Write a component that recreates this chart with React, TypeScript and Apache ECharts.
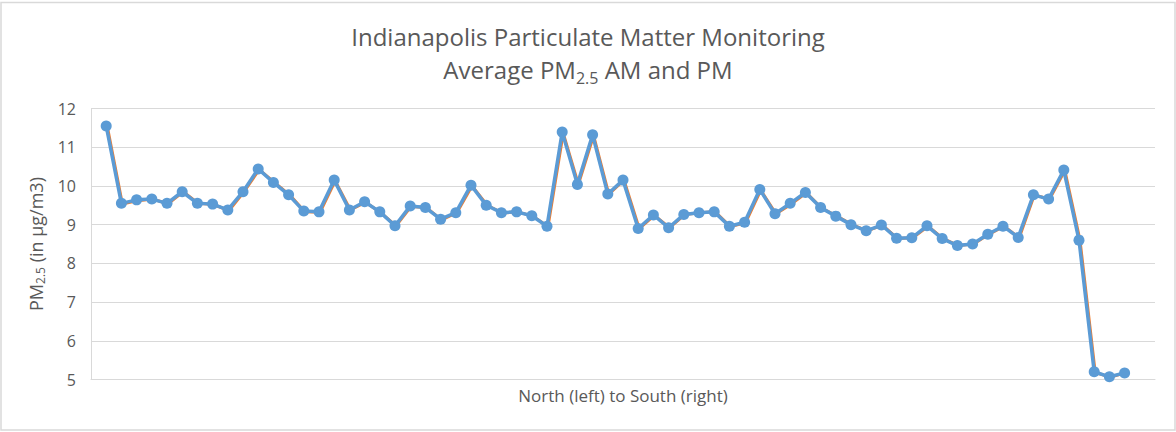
import React, { useEffect, useRef } from "react";
import * as echarts from "echarts";

// Average PM2.5 per monitoring site, ordered north (left) to south (right)
const pmAverage: number[] = [
  11.55, 9.55, 9.64, 9.66, 9.55, 9.85, 9.55, 9.53, 9.38, 9.85,
  10.44, 10.09, 9.77, 9.35, 9.33, 10.15, 9.38, 9.59, 9.33, 8.97,
  9.48, 9.44, 9.14, 9.31, 10.02, 9.5, 9.31, 9.33, 9.23, 8.96,
  11.39, 10.04, 11.32, 9.79, 10.15, 8.9, 9.25, 8.92, 9.26, 9.31,
  9.33, 8.96, 9.06, 9.91, 9.28, 9.55, 9.83, 9.44, 9.22, 9.0,
  8.84, 8.99, 8.65, 8.66, 8.97, 8.64, 8.46, 8.5, 8.75, 8.96,
  8.67, 9.77, 9.66, 10.41, 8.6, 5.2, 5.07, 5.17,
];
// Second series (almost entirely hidden behind the first)
const pmSecond: number[] = [
  11.55, 9.53, 9.62, 9.66, 9.54, 9.85, 9.55, 9.52, 9.36, 9.85,
  10.42, 10.09, 9.77, 9.33, 9.32, 10.13, 9.38, 9.58, 9.31, 8.97,
  9.47, 9.44, 9.12, 9.31, 10.0, 9.5, 9.3, 9.33, 9.22, 8.95,
  11.36, 10.04, 11.3, 9.79, 10.15, 8.9, 9.24, 8.92, 9.26, 9.31,
  9.33, 8.95, 9.05, 9.89, 9.28, 9.53, 9.82, 9.43, 9.22, 9.0,
  8.84, 8.99, 8.64, 8.66, 8.96, 8.64, 8.46, 8.5, 8.75, 8.96,
  8.66, 9.77, 9.66, 10.4, 8.6, 5.18, 5.06, 5.17,
];
const siteLabels: string[] = pmAverage.map((_, i) => `Site ${i + 1}`);
// Excel-style axis: one empty slot before, two after
const categories: string[] = ["", ...siteLabels, "", ""];
const yTicks = { min: 5, max: 12, interval: 1 };

const TEXT = "#595959";
const GRID = "#D9D9D9";
const FONT = "'Open Sans', 'Noto Sans', sans-serif";

export default function App() {
  const ref = useRef<HTMLDivElement>(null);
  useEffect(() => {
    if (!ref.current) return;
    const chart = echarts.init(ref.current, undefined, { renderer: "svg" });
    const pad = (arr: number[]) => [null, ...arr, null, null];
    const gridBase = { top: 108.5, bottom: 52.5 };
    chart.setOption({
      animation: false,
      backgroundColor: "#ffffff",
      title: {
        text: "Indianapolis Particulate Matter Monitoring\nAverage PM{sub|2.5} AM and PM",
        left: "center",
        top: 15,
        textStyle: {
          fontFamily: FONT,
          fontSize: 24,
          fontWeight: "normal",
          color: TEXT,
          lineHeight: 33,
          rich: {
            sub: {
              fontFamily: FONT,
              fontSize: 16,
              color: TEXT,
              lineHeight: 16,
              verticalAlign: "bottom",
            },
          },
        },
      },
      graphic: [
        {
          type: "rect",
          shape: { x: 1, y: 2.5, width: 1174, height: 427.5 },
          style: { fill: "transparent", stroke: GRID, lineWidth: 1.5 },
          silent: true,
        },
      ],
      grid: [
        { ...gridBase, left: 91, right: 21 },
        { ...gridBase, left: 92, right: 20 },
      ],
      xAxis: [
        {
          type: "category",
          gridIndex: 0,
          data: categories,
          boundaryGap: false,
          axisLine: { show: true, lineStyle: { color: GRID } },
          axisTick: { show: false },
          axisLabel: { show: false },
          splitLine: { show: false },
          name: "North (left) to South (right)",
          nameLocation: "middle",
          nameGap: 7,
          nameTextStyle: { fontFamily: FONT, fontSize: 17, color: TEXT },
        },
        {
          type: "category",
          gridIndex: 1,
          data: categories,
          boundaryGap: false,
          show: false,
        },
      ],
      yAxis: [
        {
          type: "value",
          gridIndex: 0,
          ...yTicks,
          axisLine: { show: true, lineStyle: { color: GRID } },
          axisTick: { show: false },
          axisLabel: {
            fontFamily: FONT,
            fontSize: 16,
            color: TEXT,
            margin: 15,
          },
          splitLine: { show: true, lineStyle: { color: GRID, width: 1 } },
          name: "PM{sub|2.5} (in µg/m3)",
          nameLocation: "middle",
          nameGap: 40,
          nameTextStyle: {
            fontFamily: FONT,
            fontSize: 18,
            color: TEXT,
            lineHeight: 22,
            rich: {
              sub: {
                fontFamily: FONT,
                fontSize: 12,
                color: TEXT,
                lineHeight: 12,
                verticalAlign: "bottom",
              },
            },
          },
        },
        {
          type: "value",
          gridIndex: 1,
          ...yTicks,
          show: false,
          splitLine: { show: false },
        },
      ],
      series: [
        {
          name: "PM",
          type: "line",
          xAxisIndex: 1,
          yAxisIndex: 1,
          data: pad(pmSecond),
          showSymbol: false,
          symbol: "none",
          lineStyle: { color: "#ED7D31", width: 3 },
          itemStyle: { color: "#ED7D31" },
          connectNulls: false,
        },
        {
          name: "AM",
          type: "line",
          xAxisIndex: 0,
          yAxisIndex: 0,
          data: pad(pmAverage),
          symbol: "circle",
          symbolSize: 11,
          showSymbol: true,
          showAllSymbol: true,
          lineStyle: { color: "#5B9BD5", width: 3.5 },
          itemStyle: { color: "#5B9BD5" },
          connectNulls: false,
        },
      ],
    });
    return () => chart.dispose();
  }, []);
  return (
    <div
      ref={ref}
      style={{ position: "absolute", left: 0, top: 0, width: 1176, height: 432 }}
    />
  );
}
